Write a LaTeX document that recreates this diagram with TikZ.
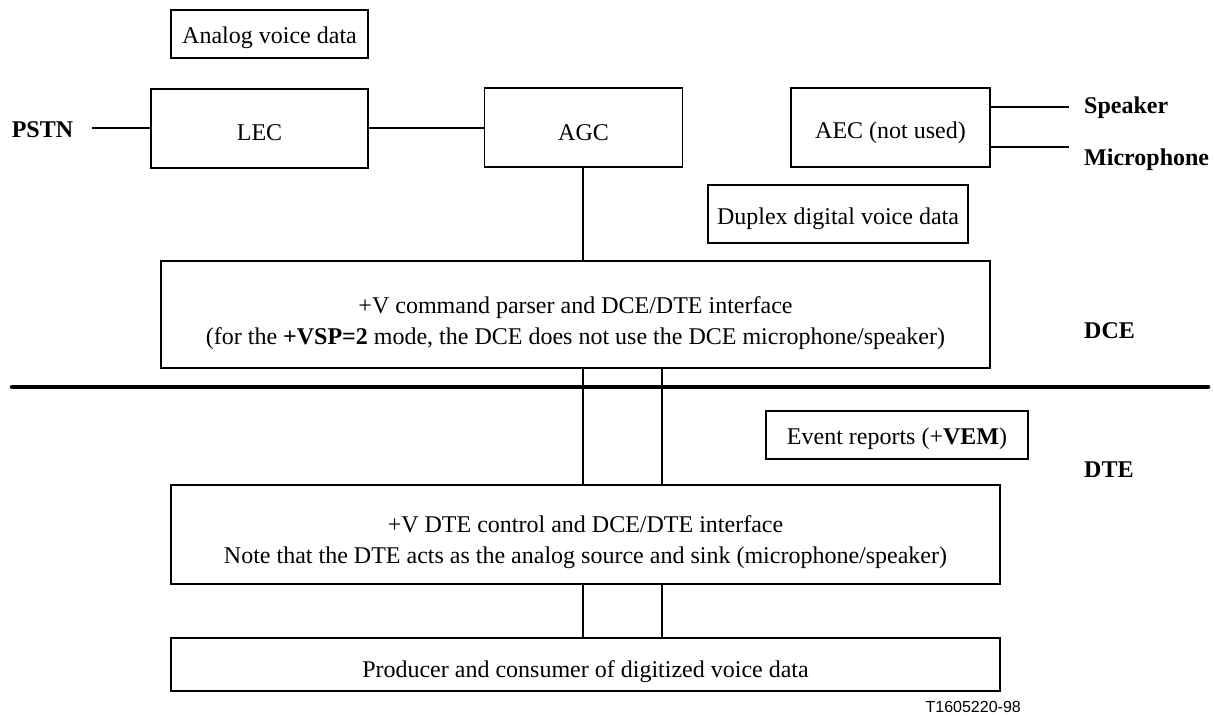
\documentclass[tikz,border=0pt]{standalone}
\usepackage{fontspec}
\setmainfont{Liberation Serif}
\newfontfamily\figsans{Liberation Sans}
\begin{document}
\begin{tikzpicture}[x=1pt,y=-1pt,
  box/.style={draw, line width=1.2pt, inner sep=0pt},
  txt/.style={inner sep=0pt, align=center, font=\fontsize{24}{31}\selectfont},
  lbl/.style={inner sep=0pt, font=\fontsize{24}{28}\selectfont\bfseries},
  wire/.style={line width=1.2pt},
  bus/.style={line width=4.5pt, line cap=round}]
\useasboundingbox (0,0) rectangle (1214,715);
% boxes
\node[box, minimum width=197pt, minimum height=48pt] (analog) at (269.5,34) {};
\node[box, minimum width=217pt, minimum height=79pt] (lec) at (259.5,128.5) {};
\node[box, minimum width=198pt, minimum height=79pt] (agc) at (583.5,127.5) {};
\node[box, minimum width=199pt, minimum height=79pt] (aec) at (890.5,127.5) {};
\node[box, minimum width=260pt, minimum height=58pt] (duplex) at (838,214) {};
\node[box, minimum width=829pt, minimum height=107pt] (parser) at (575.5,314.5) {};
\node[box, minimum width=262pt, minimum height=48pt] (event) at (897,435) {};
\node[box, minimum width=829pt, minimum height=99pt] (dtectl) at (585.5,534.5) {};
\node[box, minimum width=829pt, minimum height=53pt] (producer) at (585.5,664.5) {};
% box texts
\node[txt, anchor=base] (analogtxt) at (analog.center |- 0,43) {Analog voice data};
\node[txt, anchor=base] (lectxt) at (lec.center |- 0,140) {LEC};
\node[txt, anchor=base] (agctxt) at (agc.center |- 0,140) {AGC};
\node[txt, anchor=base] (aectxt) at (aec.center |- 0,138) {AEC (not used)};
\node[txt, anchor=base] (duplextxt) at (duplex.center |- 0,224) {Duplex digital voice data};
\node[txt] (parsertxt) at (parser.center |- 0,323)
  {+V command parser and DCE/DTE interface\\(for the \textbf{+VSP=2} mode, the DCE does not use the DCE microphone/speaker)};
\node[txt, anchor=base] (eventtxt) at (event.center |- 0,444) {Event reports (+\textbf{VEM})};
\node[txt] (dtectltxt) at (dtectl.center |- 0,542)
  {+V DTE control and DCE/DTE interface\\Note that the DTE acts as the analog source and sink (microphone/speaker)};
\node[txt, anchor=base] (producertxt) at (producer.center |- 0,677) {Producer and consumer of digitized voice data};
% labels
\node[lbl, anchor=center] (pstn) at (42.5,130) {PSTN};
\node[lbl, anchor=base west] (speaker) at (1084,113) {Speaker};
\node[lbl, anchor=base west] (micro) at (1084,165) {Microphone};
\node[lbl, anchor=base west] (dce) at (1084,338) {DCE};
\node[lbl, anchor=base west] (dte) at (1084,477) {DTE};
\node[inner sep=0pt, anchor=base east, font=\figsans\fontsize{16}{18}\selectfont] (fig) at (1021,712) {T1605220-98};
% free ends
\coordinate (pstnend) at (92,128);
\coordinate (spkend) at (1069,107);
\coordinate (micend) at (1069,147);
\coordinate (busl) at (12,387);
\coordinate (busr) at (1208,387);
\coordinate (va) at (583,0);
\coordinate (vb) at (662,0);
% connectors
\draw[wire] (pstnend) -- (pstnend -| lec.west);
\draw[wire] (lec.east |- pstnend) -- (agc.west |- pstnend);
\draw[wire] (va |- agc.south) -- (va |- parser.north);
\draw[wire] (aec.east |- spkend) -- (spkend);
\draw[wire] (aec.east |- micend) -- (micend);
\draw[bus] (busl) -- (busr);
\draw[wire] (va |- parser.south) -- (va |- dtectl.north);
\draw[wire] (vb |- parser.south) -- (vb |- dtectl.north);
\draw[wire] (va |- dtectl.south) -- (va |- producer.north);
\draw[wire] (vb |- dtectl.south) -- (vb |- producer.north);
\end{tikzpicture}
\end{document}
